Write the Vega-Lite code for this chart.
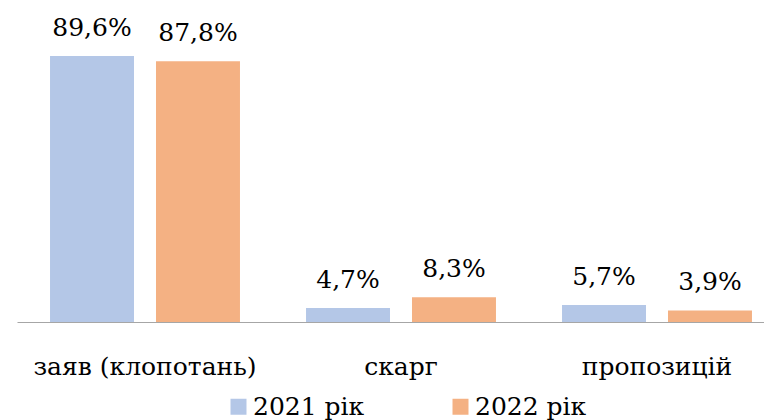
{
  "$schema": "https://vega.github.io/schema/vega-lite/v6.json",
  "autosize": {"type": "none"},
  "padding": {"left": 17, "top": 25, "right": 0, "bottom": 98},
  "width": 768,
  "height": 297,
  "background": "white",
  "data": {
    "values": [
      {"category": "заяв (клопотань)", "year": "2021 рік", "value": 89.6, "label": "89,6%"},
      {"category": "заяв (клопотань)", "year": "2022 рік", "value": 87.8, "label": "87,8%"},
      {"category": "скарг", "year": "2021 рік", "value": 4.7, "label": "4,7%"},
      {"category": "скарг", "year": "2022 рік", "value": 8.3, "label": "8,3%"},
      {"category": "пропозицій", "year": "2021 рік", "value": 5.7, "label": "5,7%"},
      {"category": "пропозицій", "year": "2022 рік", "value": 3.9, "label": "3,9%"}
    ]
  },
  "encoding": {
    "x": {
      "field": "category", "type": "nominal", "sort": null,
      "scale": {"paddingInner": 0.258, "paddingOuter": 0.129},
      "axis": {
        "title": null, "labelAngle": 0, "ticks": false,
        "domainColor": "#a6a6a6", "domainWidth": 1.2,
        "labelFont": "DejaVu Serif", "labelFontSize": 25, "labelColor": "#000000",
        "labelBaseline": "alphabetic", "labelPadding": 52, "labelLimit": 400
      }
    },
    "xOffset": {"field": "year", "type": "nominal", "scale": {"paddingInner": 0.2075, "paddingOuter": 0}},
    "y": {"field": "value", "type": "quantitative", "scale": {"domain": [0, 100]}, "axis": null}
  },
  "layer": [
    {
      "mark": {"type": "bar"},
      "encoding": {
        "color": {
          "field": "year", "type": "nominal",
          "scale": {"domain": ["2021 рік", "2022 рік"], "range": ["#B4C7E7", "#F4B183"]},
          "legend": {
            "title": null, "orient": "none", "direction": "horizontal",
            "legendX": 209, "legendY": 369, "padding": 0,
            "symbolType": "square", "symbolSize": 256, "symbolStrokeWidth": 0,
            "labelFont": "DejaVu Serif", "labelFontSize": 25, "labelColor": "#000000",
            "labelOffset": 2, "columnPadding": 83, "labelLimit": 300
          }
        }
      }
    },
    {
      "mark": {"type": "text", "font": "DejaVu Serif", "fontSize": 25, "color": "#000000", "baseline": "alphabetic", "dy": -20},
      "encoding": {"text": {"field": "label"}}
    }
  ],
  "config": {"view": {"stroke": null}}
}
